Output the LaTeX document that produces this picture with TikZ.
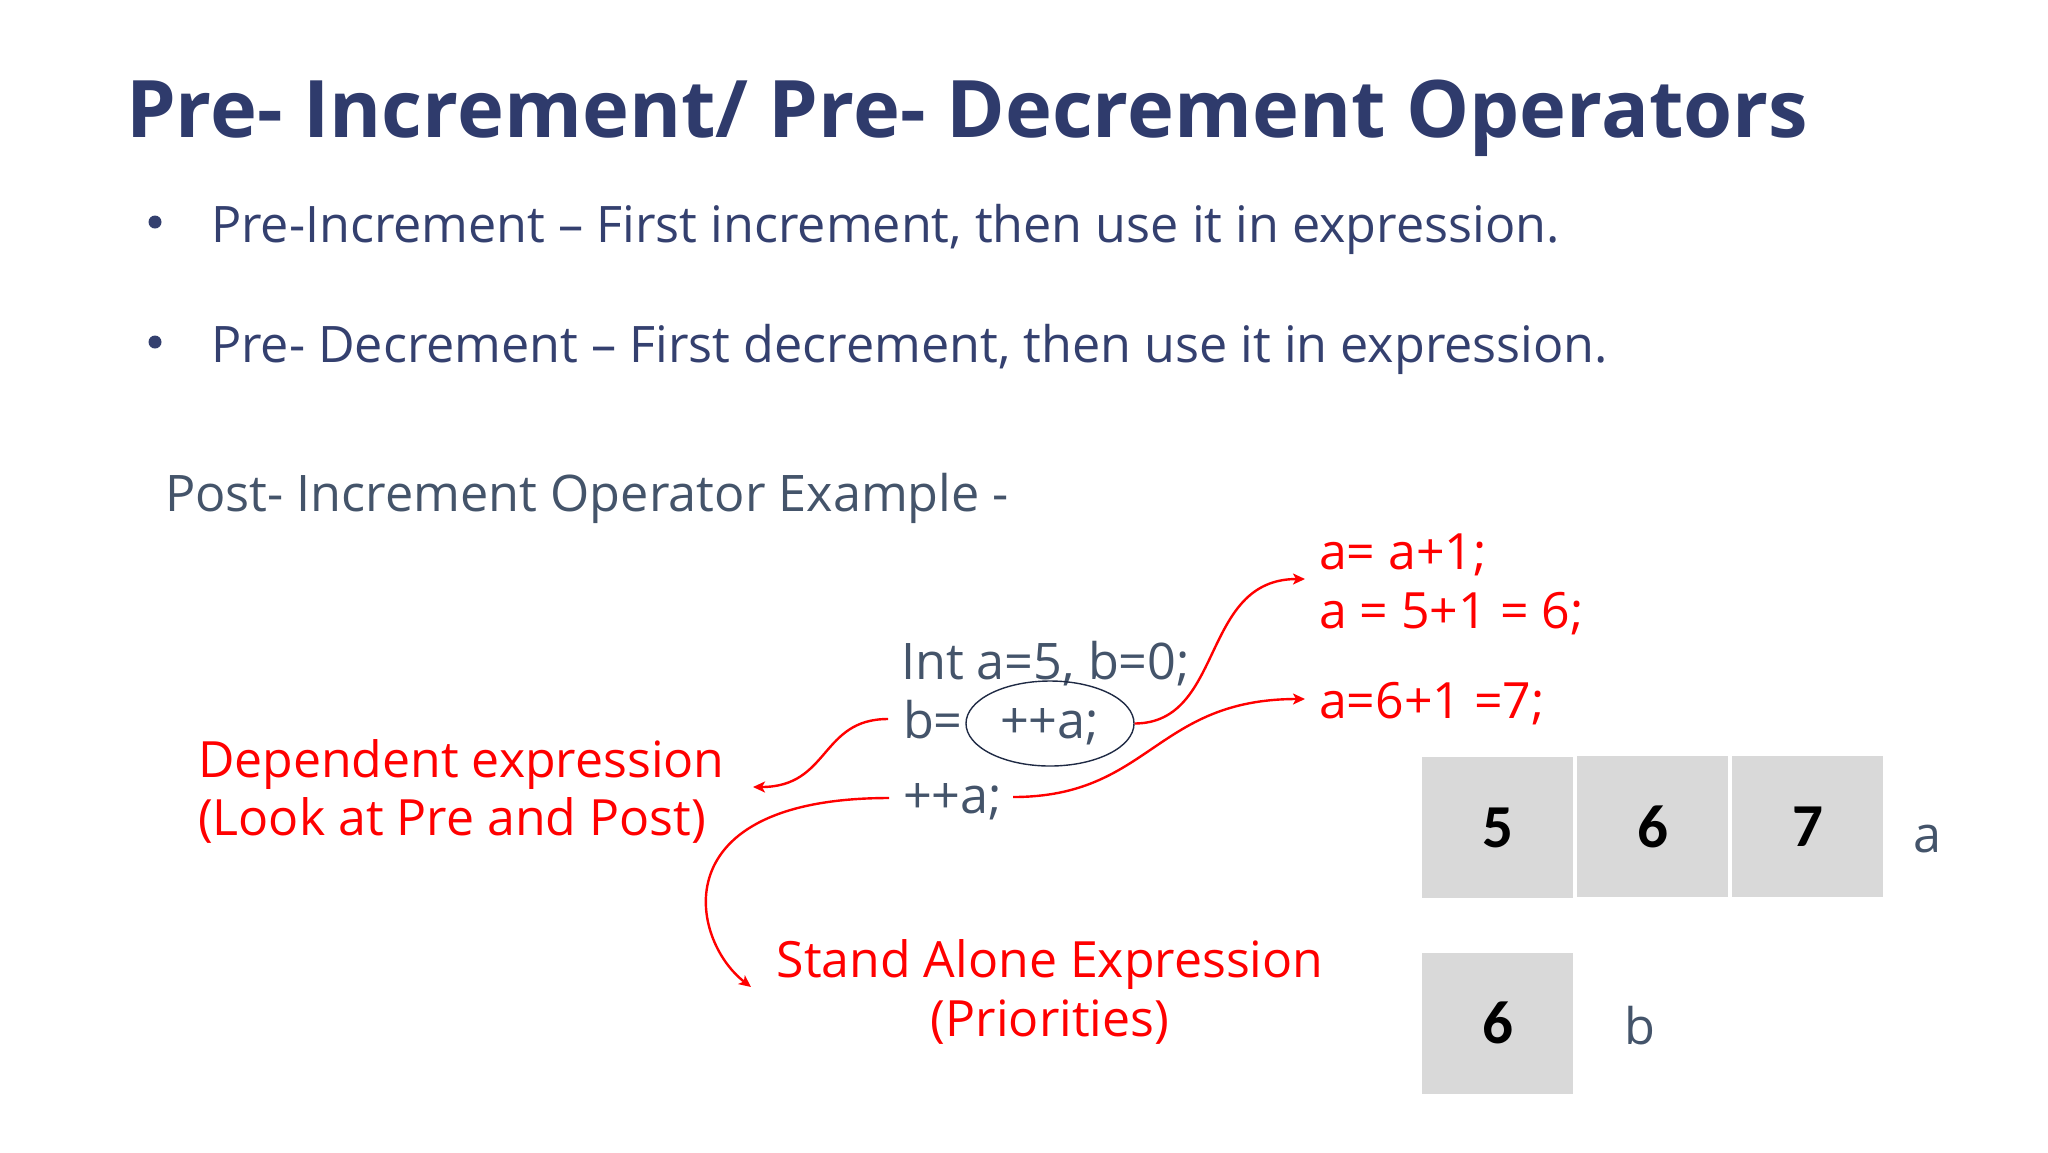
\documentclass[tikz,border=0pt]{standalone}
\usepackage{fontspec}
\setmainfont{Open Sans}
\newfontfamily\digitfont{Carlito}
\usetikzlibrary{arrows.meta,shapes.geometric}
\definecolor{titlec}{HTML}{2F3B6C}
\definecolor{bulletc}{HTML}{34406F}
\definecolor{codec}{HTML}{44546A}
\definecolor{redc}{HTML}{FF0000}
\definecolor{boxc}{HTML}{D9D9D9}
\definecolor{ellc}{HTML}{1F2A44}
\begin{document}
\begin{tikzpicture}[x=0.5pt,y=-0.5pt,
  txt/.style={inner sep=0pt,outer sep=0pt,anchor=base west},
  titletxt/.style={txt,text=titlec,font=\fontsize{39.7}{48}\selectfont\bfseries},
  bullettxt/.style={txt,text=bulletc,font=\fontsize{25.15}{30}\selectfont},
  bulletdot/.style={circle,fill=bulletc,inner sep=0pt,minimum size=6.5pt},
  codetxt/.style={txt,text=codec,font=\fontsize{25.2}{30}\selectfont},
  redtxt/.style={txt,text=redc,font=\fontsize{25}{30}\selectfont},
  redctr/.style={inner sep=0pt,anchor=base,text=redc,font=\fontsize{25}{30}\selectfont},
  redarrow/.style={draw=redc,line width=1.2pt,-{Stealth[length=6pt,width=5.5pt,inset=1.5pt]}},
  cell/.style={fill=boxc,inner sep=0pt,minimum width=75.5pt,minimum height=70.5pt,
    font=\digitfont\fontsize{30.5}{36}\selectfont\bfseries,text=black},
  oval/.style={draw=ellc,line width=0.7pt,ellipse,inner sep=0pt,minimum width=84pt,minimum height=42.5pt}
]
\useasboundingbox (0,0) rectangle (2048,1152);

% title and bullets
\node[titletxt] (title) at (126,137) {Pre- Increment/ Pre- Decrement Operators};
\node[bulletdot] (d1) at (155,222) {};
\node[bullettxt] (b1) at (211,242) {Pre-Increment -- First increment, then use it in expression.};
\node[bulletdot] (d2) at (155,342) {};
\node[bullettxt] (b2) at (211,362) {Pre- Decrement -- First decrement, then use it in expression.};

\node[codetxt] (post) at (165,511) {Post- Increment Operator Example -};

% code lines
\node[codetxt] (l1) at (901,679) {Int a=5, b=0;};
\node[codetxt] (l2) at (903,738) {b=};
\node[codetxt] (inc) at (1000,738) {++a;};
\node[oval] (ell) at (1050,723.5) {};
\node[codetxt] (l3) at (903,813) {++a;};

% red results
\node[redtxt] (r1) at (1319,569) {a= a+1;};
\node[redtxt] (r2) at (1319,628) {a = 5+1 = 6;};
\node[redtxt] (r3) at (1319,718) {a=6+1 =7;};

% explanations
\node[redtxt] (dep1) at (198,777) {Dependent expression};
\node[redtxt] (dep2) at (198,835) {(Look at Pre and Post)};
\node[redctr] (sa1) at (1050,977) {Stand Alone Expression};
\node[redctr] (sa2) at (1050,1036) {(Priorities)};

% arrow end points
\coordinate (tipA) at (1305,579);
\coordinate (tipB) at (1305,699);
\coordinate (tipC) at (753,787);
\coordinate (tipD) at (751,987);
\coordinate (sB) at (1013,797);
\coordinate (sC) at (888,719);
\coordinate (sD) at (889,798);

\draw[redarrow] (ell.east) .. controls (1225,723) and (1200,579) .. (tipA);
\draw[redarrow] (sB) .. controls (1150,797) and (1155,699) .. (tipB);
\draw[redarrow] (sC) .. controls (820,719) and (830,787) .. (tipC);
\draw[redarrow] (sD) .. controls (660,798) and (690,940) .. (tipD);

% memory cells
\node[cell] (c1) at (1497.5,827.5) {5};
\node[cell] (c2) at (1652.5,826.5) {6};
\node[cell] (c3) at (1807.5,826.5) {7};
\node[codetxt] (la) at (1913,852) {a};
\node[cell] (cb) at (1497.5,1023) {6};
\node[codetxt] (lb) at (1624,1044) {b};
\end{tikzpicture}
\end{document}
